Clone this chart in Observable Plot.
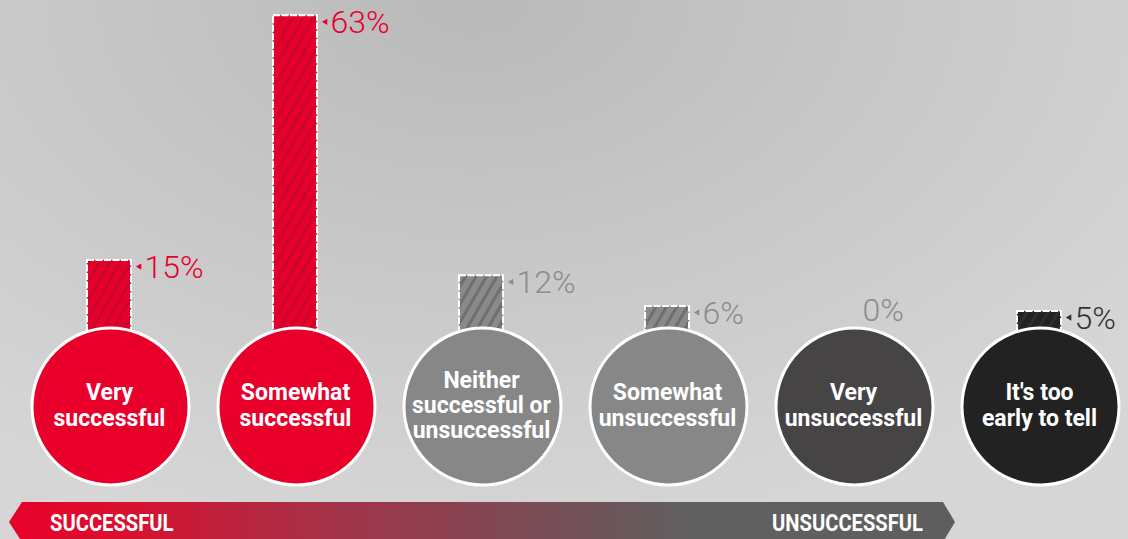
<!DOCTYPE html>
<html><head><meta charset="utf-8">
<script src="https://cdn.jsdelivr.net/npm/d3@7"></script>
<script src="https://cdn.jsdelivr.net/npm/@observablehq/plot@0.6"></script>
<style>
html,body{margin:0;padding:0;}
body{width:1128px;height:539px;overflow:hidden;background:radial-gradient(ellipse 75% 100% at 42% 0%, #b9b9b9 0%, #c8c8c8 50%, #d6d6d6 100%);}
</style></head><body><div id="chart"></div>
<script>
const categories = ["Very\nsuccessful","Somewhat\nsuccessful","Neither\nsuccessful or\nunsuccessful","Somewhat\nunsuccessful","Very\nunsuccessful","It's too\nearly to tell"];
const values = [15, 63, 12, 6, 0, 5];
const circleColors = ["#e8002b","#e8002b","#878787","#878787","#464445","#222222"];
const barFills = ["url(#hatch-red)","url(#hatch-red)","url(#hatch-grey)","url(#hatch-grey)","url(#hatch-grey)","url(#hatch-dark)"];
const labelColors = ["#e8002b","#e8002b","#8c8c8c","#8c8c8c","#8c8c8c","#333333"];
const scaleLabels = ["SUCCESSFUL","UNSUCCESSFUL"];

const data = categories.map((c,i)=>({cat:c, value:values[i], circle:circleColors[i], bar:barFills[i], label:labelColors[i]}));
const nonZero = data.filter(d=>d.value>0);
const zero = data.filter(d=>d.value===0);
const boldFont = "Roboto,'Liberation Sans',sans-serif";
const light = "Roboto,'Liberation Sans',sans-serif";

const plot = Plot.plot({
  width:1128, height:539, margin:0,
  style:{background:"transparent", overflow:"visible"},
  x:{domain:categories, range:[13.6,1134.4], paddingInner:0.764, paddingOuter:0.382, axis:null},
  y:{domain:[0,66], range:[336.5,0], axis:null},
  color:{type:"identity"},
  marks:[
    Plot.barY(nonZero, {x:"cat", y:"value", fill:"bar", stroke:"white", strokeWidth:2, strokeDasharray:"7,1.5"}),
    Plot.dot(data, {x:"cat", y:0, dy:69.5, dx:1, r:78.5, fill:"circle", stroke:"white", strokeWidth:3}),
    Plot.text(data, {x:"cat", y:0, dy:68, dx:0, text:"cat", fill:"white", fontSize:23, fontWeight:"bold", fontFamily:boldFont, lineHeight:1.1}),
    Plot.dot(nonZero, {x:"cat", y:"value", dx:30, dy:6, symbol:"triangle2", r:3, rotate:-90, fill:"label", stroke:null}),
    Plot.text(nonZero, {x:"cat", y:"value", dx:35, dy:7, text:d=>d.value+"%", textAnchor:"start", fill:"label", fontSize:32, fontWeight:300, fontFamily:light}),
    Plot.text(zero, {x:"cat", y:"value", dx:9, dy:-26, text:d=>d.value+"%", textAnchor:"start", fill:"label", fontSize:32, fontWeight:300, fontFamily:light})
  ]
});

const svg = d3.select(plot);
const defs = svg.insert("defs", ":first-child");
function hatch(id, base, stripe){
  const p = defs.append("pattern").attr("id",id).attr("patternUnits","userSpaceOnUse")
    .attr("width",9).attr("height",9).attr("patternTransform","rotate(30)");
  p.append("rect").attr("width",9).attr("height",9).attr("fill",base);
  p.append("rect").attr("width",3).attr("height",9).attr("fill",stripe);
}
hatch("hatch-red","#e8002b","#c8062c");
hatch("hatch-grey","#8a8a8a","#6f6f6f");
hatch("hatch-dark","#222222","#2e2e2e");

const g = defs.append("linearGradient").attr("id","arrowGrad").attr("gradientUnits","userSpaceOnUse")
  .attr("x1",9).attr("x2",955).attr("y1",0).attr("y2",0);
[[0,"#e8002b"],[0.12,"#d8102f"],[0.35,"#a2344a"],[0.55,"#7a4b55"],[0.72,"#606060"],[1,"#5e5e5e"]]
  .forEach(([o,c])=>g.append("stop").attr("offset",o).attr("stop-color",c));

const deco = svg.append("g");
deco.append("path").attr("d","M9,522 L22,502 L943,502 L955,522 L943,542 L22,542 Z").attr("fill","url(#arrowGrad)");
deco.append("text").attr("transform","translate(50,522) scale(0.84,1)").attr("dy","0.36em").attr("text-anchor","start").attr("fill","white")
  .attr("font-family",boldFont).attr("font-weight","bold").attr("font-size",24).text(scaleLabels[0]);
deco.append("text").attr("transform","translate(923,522) scale(0.84,1)").attr("dy","0.36em").attr("text-anchor","end").attr("fill","white")
  .attr("font-family",boldFont).attr("font-weight","bold").attr("font-size",24).text(scaleLabels[1]);

document.getElementById("chart").appendChild(plot);
</script></body></html>
